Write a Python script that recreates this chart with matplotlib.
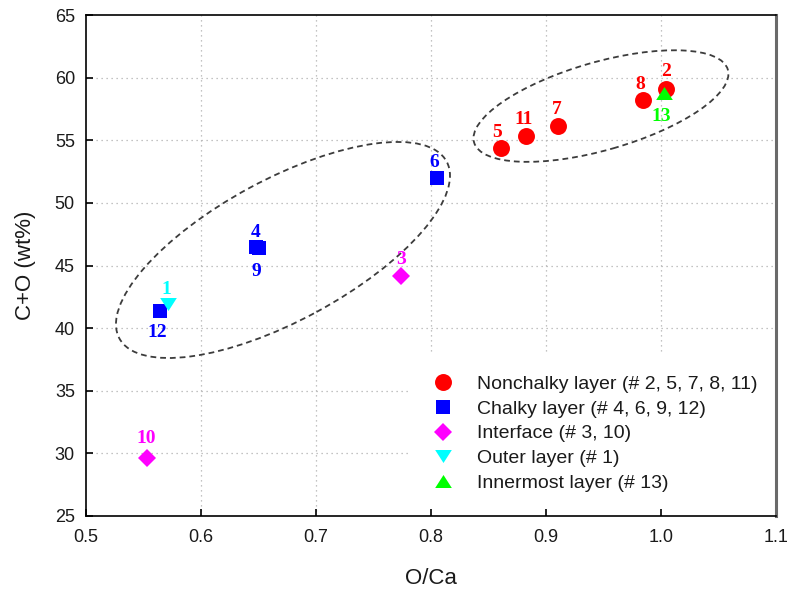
import matplotlib
matplotlib.use("Agg")
import matplotlib.pyplot as plt
from matplotlib.patches import Ellipse
from matplotlib.lines import Line2D
from matplotlib.transforms import ScaledTranslation

plt.rcParams['font.family'] = ['Liberation Sans', 'DejaVu Sans']

# Sample groups: sample numbers, O/Ca ratio, C+O content (wt%)
nonchalky_ids = [2, 5, 7, 8, 11]
nonchalky_x = [1.004, 0.861, 0.910, 0.984, 0.883]
nonchalky_y = [59.1, 54.4, 56.1, 58.2, 55.3]

chalky_ids = [4, 6, 9, 12]
chalky_x = [0.648, 0.805, 0.650, 0.564]
chalky_y = [46.5, 52.0, 46.4, 41.4]

interface_ids = [3, 10]
interface_x = [0.774, 0.553]
interface_y = [44.2, 29.6]

outer_ids = [1]
outer_x = [0.571]
outer_y = [41.9]

inner_ids = [13]
inner_x = [1.003]
inner_y = [58.8]

series_names = [
    "Nonchalky layer (# 2, 5, 7, 8, 11)",
    "Chalky layer (# 4, 6, 9, 12)",
    "Interface (# 3, 10)",
    "Outer layer (# 1)",
    "Innermost layer (# 13)",
]

x_ticks = [0.5, 0.6, 0.7, 0.8, 0.9, 1.0, 1.1]
y_ticks = [25, 30, 35, 40, 45, 50, 55, 60, 65]

# label offsets (pixels) relative to each marker
label_offset = {
    1: (-1, 15), 2: (0, 17), 3: (0, 16), 4: (-1, 14), 5: (-4, 15),
    6: (-2, 15), 7: (-1, 17), 8: (-2, 16), 9: (-2, -24), 10: (-1, 20),
    11: (-3, 17), 12: (-2, -22), 13: (-3, -24),
}

tri_down = [(-1, 0.78), (1, 0.78), (0, -0.78)]
tri_up = [(-1, -0.78), (1, -0.78), (0, 0.78)]

styles = [
    dict(marker='o', color='#ff0000', ms=12.2),
    dict(marker='s', color='#0000ff', ms=9.6),
    dict(marker='D', color='#ff00ff', ms=9.0),
    dict(marker=tri_down, color='#00ffff', ms=12.0),
    dict(marker=tri_up, color='#00ff00', ms=12.0),
]

groups = [
    (nonchalky_ids, nonchalky_x, nonchalky_y),
    (chalky_ids, chalky_x, chalky_y),
    (interface_ids, interface_x, interface_y),
    (outer_ids, outer_x, outer_y),
    (inner_ids, inner_x, inner_y),
]

fig = plt.figure(figsize=(7.9, 5.92), dpi=100)
ax = fig.add_axes([86 / 790, 1 - 516 / 592, 690 / 790, 501 / 592])

ax.set_xlim(0.5, 1.1)
ax.set_ylim(25, 65)
ax.set_xticks(x_ticks)
ax.set_yticks(y_ticks)
ax.set_xticklabels([f"{v:.1f}" for v in x_ticks])
ax.set_yticklabels([str(v) for v in y_ticks])
ax.set_axisbelow(True)

# dotted grid drawn under the legend box, ticks stay on top
grid_kw = dict(linestyle=(0, (1, 3)), color='#b0b0b0', linewidth=0.9, zorder=0.2)
for xv in x_ticks[1:-1]:
    ax.axvline(xv, **grid_kw)
for yv in y_ticks[1:-1]:
    ax.axhline(yv, **grid_kw)

ax.tick_params(direction='in', length=5, width=1.2, labelsize=13,
               pad=8, colors='#000000', labelcolor='#1a1a1a')
ax.tick_params(axis='x', pad=9)
for side in ('left', 'top', 'bottom'):
    ax.spines[side].set_linewidth(1.2)
    ax.spines[side].set_color('#000000')
ax.spines['right'].set_linewidth(2.2)
ax.spines['right'].set_color('#6a6a6a')

# grouping ellipses
ellipse_specs = [
    dict(center=(0.6713, 46.24), w=3.72, h=1.41, angle=28.4),
    dict(center=(0.9478, 57.73), w=2.64, h=0.88, angle=16.0),
]
for e in ellipse_specs:
    tr = fig.dpi_scale_trans + ScaledTranslation(e['center'][0], e['center'][1], ax.transData)
    ax.add_patch(Ellipse((0, 0), e['w'], e['h'], angle=e['angle'], transform=tr,
                         fill=False, edgecolor='#3c3c3c', linewidth=1.3,
                         linestyle=(0, (3.2, 2.2)), zorder=2))

handles = []
for (ids, xs, ys), st, name in zip(groups, styles, series_names):
    ax.plot(xs, ys, linestyle='none', marker=st['marker'], markersize=st['ms'],
            color=st['color'], markeredgewidth=0, zorder=3)
    handles.append(Line2D([], [], linestyle='none', marker=st['marker'],
                          markersize=st['ms'], color=st['color'],
                          markeredgewidth=0, label=name))
    for i, x, y in zip(ids, xs, ys):
        dx, dy = label_offset[i]
        ax.annotate(str(i), (x, y), xytext=(dx, dy), textcoords='offset pixels',
                    ha='center', va='center', color=st['color'], fontsize=14,
                    fontweight='bold', family=['Liberation Serif', 'DejaVu Serif'],
                    zorder=4)

leg = ax.legend(handles=handles, loc='lower right',
                bbox_to_anchor=(1 + 5 / 690, 1 / 501),
                borderaxespad=0, borderpad=1.2, fontsize=14, handlelength=1.0,
                handletextpad=1.25, labelspacing=0.36, frameon=True,
                fancybox=False, framealpha=1)
leg.get_frame().set_facecolor('white')
leg.get_frame().set_edgecolor('none')
for t in leg.get_texts():
    t.set_color('#1a1a1a')
leg.set_zorder(0.3)

ax.set_xlabel('O/Ca', fontsize=16, color='#1a1a1a', va='center')
ax.set_ylabel('C+O (wt%)', fontsize=16, color='#1a1a1a', va='center')
ax.xaxis.set_label_coords(0.5, (516 - 578) / 501)
ax.yaxis.set_label_coords((26 - 86) / 690, 0.5)

fig.savefig('out.png', dpi=100)
